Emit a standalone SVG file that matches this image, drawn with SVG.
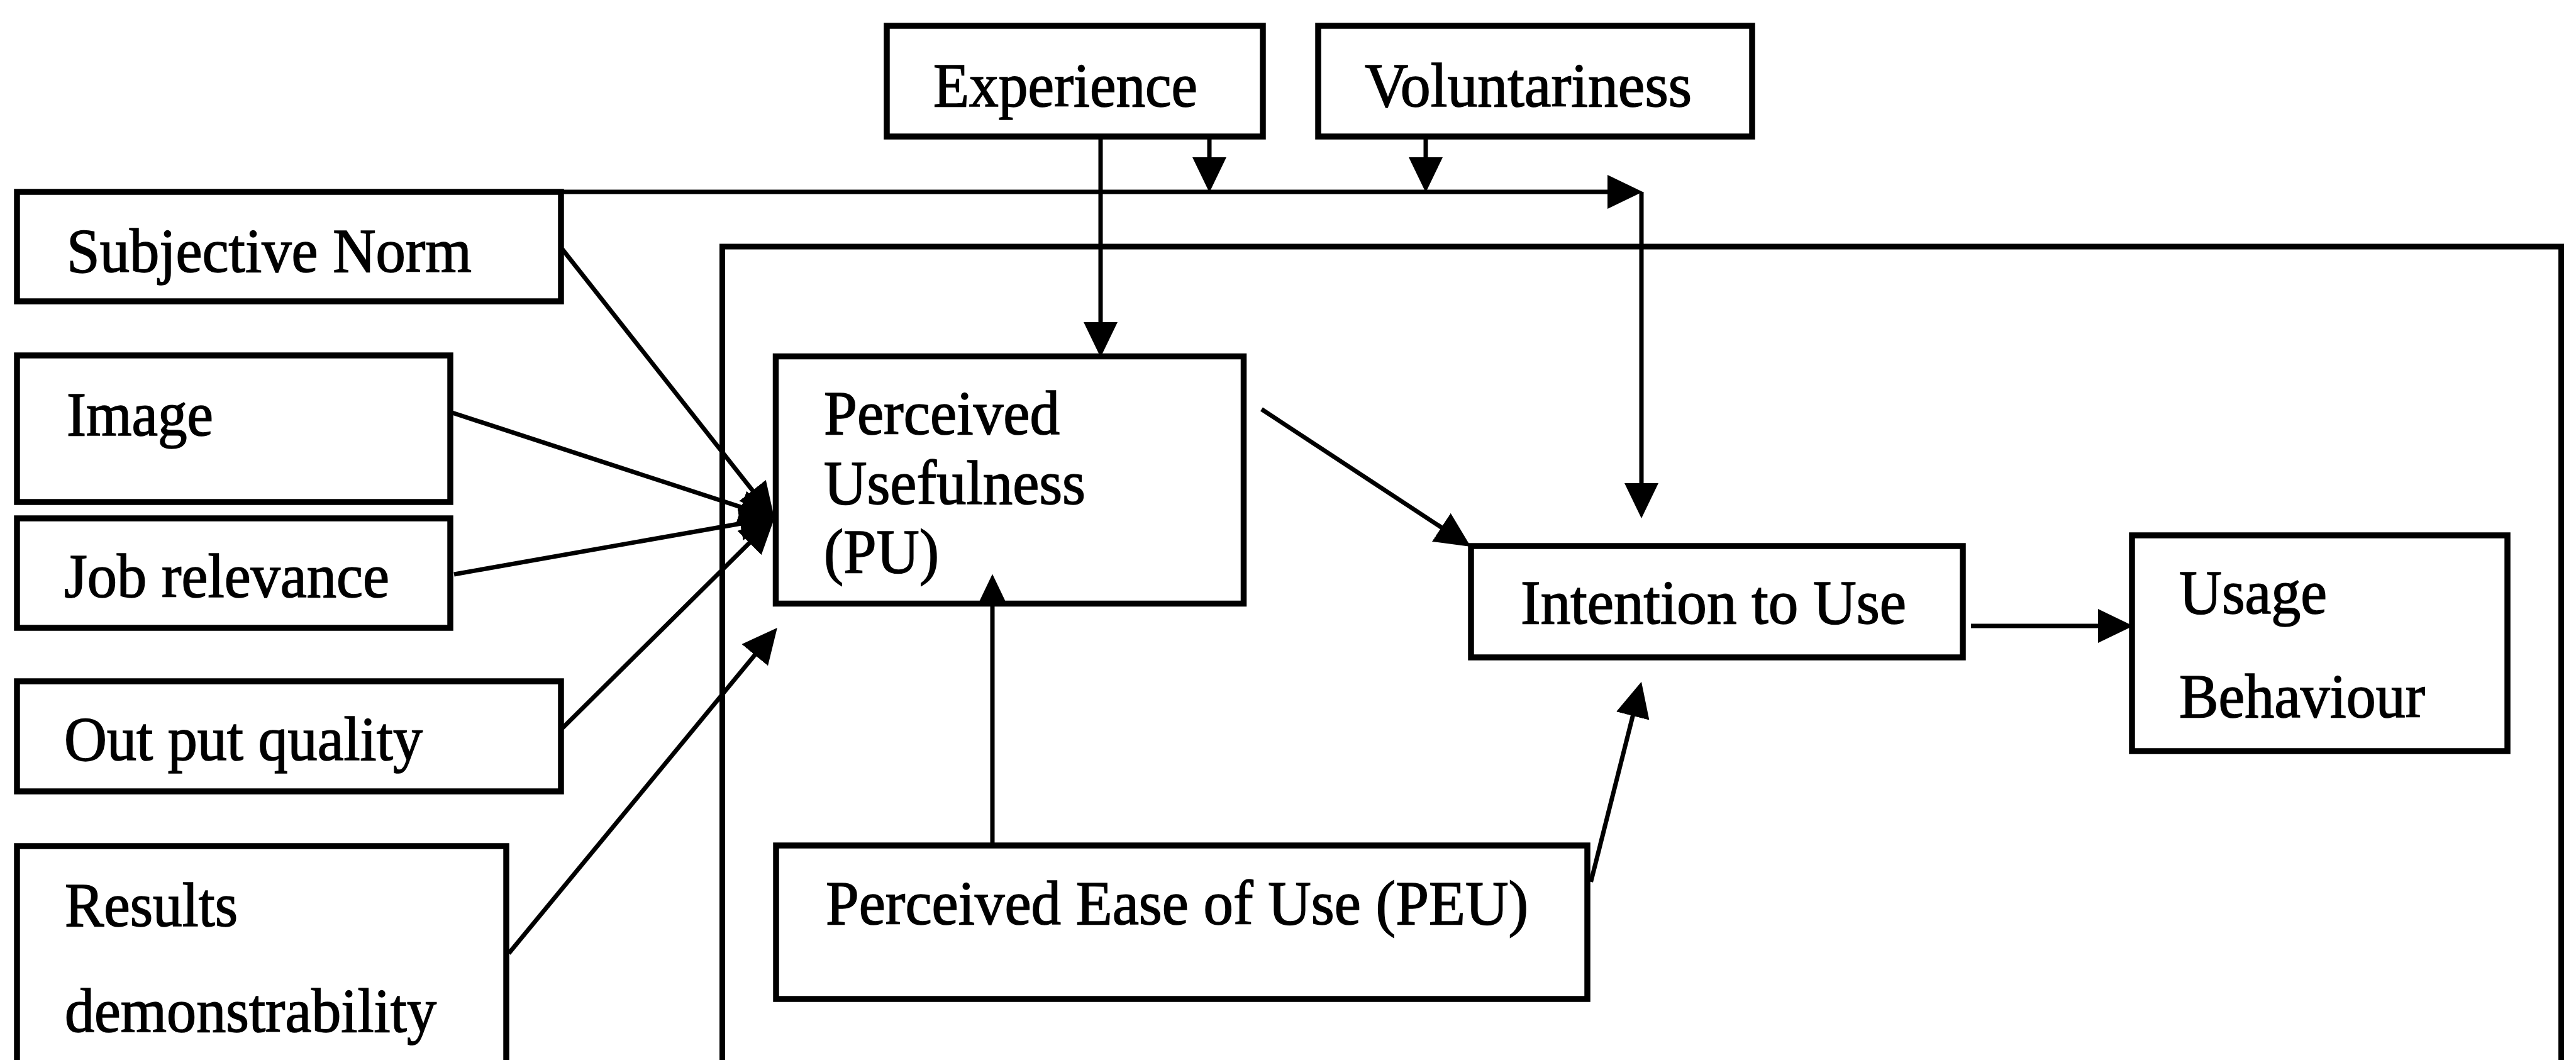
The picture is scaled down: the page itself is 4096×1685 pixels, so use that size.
<svg xmlns="http://www.w3.org/2000/svg" width="4096" height="1685" viewBox="0 0 4096 1685">
  <style>
    .box { fill: #ffffff; stroke: #000000; stroke-width: 9.5; }
    .frame { fill: none; stroke: #000000; stroke-width: 9; }
    .label { font-family: "Liberation Serif", "Times New Roman", serif; font-size: 99px; fill: #000000; stroke: #000000; stroke-width: 1.6; }
    .link { fill: none; stroke: #000000; stroke-width: 7; marker-end: url(#arrow); }
    .plain { fill: none; stroke: #000000; stroke-width: 7; }
  </style>
  <defs>
    <marker id="arrow" viewBox="0 0 56 54" refX="44" refY="27" markerWidth="56" markerHeight="54" markerUnits="userSpaceOnUse" orient="auto">
      <path d="M0,0 L56,27 L0,54 Z" fill="#000000"/>
    </marker>
    <marker id="arrow-small" viewBox="0 0 46 44" refX="36" refY="22" markerWidth="46" markerHeight="44" markerUnits="userSpaceOnUse" orient="auto">
      <path d="M0,0 L46,22 L0,44 Z" fill="#000000"/>
    </marker>
  </defs>

  <rect width="4096" height="1685" fill="#ffffff"/>

  <!-- outer frame around the core model -->
  <g id="core-frame">
    <rect class="frame" x="1148.5" y="392" width="2924" height="1400"/>
  </g>

  <g id="experience">
    <rect class="box" x="1410" y="41" width="598" height="176"/>
    <text class="label" x="1484" y="169" textLength="420" lengthAdjust="spacingAndGlyphs">Experience</text>
  </g>

  <g id="voluntariness">
    <rect class="box" x="2096" y="41" width="690" height="176"/>
    <text class="label" x="2170" y="169" textLength="520" lengthAdjust="spacingAndGlyphs">Voluntariness</text>
  </g>

  <g id="subjective-norm">
    <rect class="box" x="27" y="305" width="865" height="174"/>
    <text class="label" x="106" y="432" textLength="644" lengthAdjust="spacingAndGlyphs">Subjective Norm</text>
  </g>

  <g id="image">
    <rect class="box" x="27" y="565" width="689" height="233"/>
    <text class="label" x="106" y="692" textLength="233" lengthAdjust="spacingAndGlyphs">Image</text>
  </g>

  <g id="job-relevance">
    <rect class="box" x="27" y="824" width="689" height="174"/>
    <text class="label" x="102" y="949" textLength="517" lengthAdjust="spacingAndGlyphs">Job relevance</text>
  </g>

  <g id="output-quality">
    <rect class="box" x="27" y="1083" width="865" height="175"/>
    <text class="label" x="102" y="1208" textLength="570" lengthAdjust="spacingAndGlyphs">Out put quality</text>
  </g>

  <g id="results-demonstrability">
    <rect class="box" x="27" y="1345" width="778" height="400"/>
    <text class="label" x="103" y="1472" textLength="275" lengthAdjust="spacingAndGlyphs">Results</text>
    <text class="label" x="103" y="1640" textLength="591" lengthAdjust="spacingAndGlyphs">demonstrability</text>
  </g>

  <g id="perceived-usefulness">
    <rect class="box" x="1233.5" y="566.5" width="744" height="393"/>
    <text class="label" x="1310" y="690" textLength="375" lengthAdjust="spacingAndGlyphs">Perceived</text>
    <text class="label" x="1310" y="801" textLength="416" lengthAdjust="spacingAndGlyphs">Usefulness</text>
    <text class="label" x="1310" y="910" textLength="183" lengthAdjust="spacingAndGlyphs">(PU)</text>
  </g>

  <g id="perceived-ease-of-use">
    <rect class="box" x="1234" y="1344" width="1290" height="244"/>
    <text class="label" x="1313" y="1469" textLength="1117" lengthAdjust="spacingAndGlyphs">Perceived Ease of Use (PEU)</text>
  </g>

  <g id="intention-to-use">
    <rect class="box" x="2339" y="868" width="782" height="177"/>
    <text class="label" x="2418" y="991" textLength="613" lengthAdjust="spacingAndGlyphs">Intention to Use</text>
  </g>

  <g id="usage-behaviour">
    <rect class="box" x="3390" y="851" width="597" height="343"/>
    <text class="label" x="3465" y="975" textLength="235" lengthAdjust="spacingAndGlyphs">Usage</text>
    <text class="label" x="3465" y="1140" textLength="391" lengthAdjust="spacingAndGlyphs">Behaviour</text>
  </g>

  <!-- connectors (drawn last so arrowheads stay visible on box edges) -->
  <g id="connectors">
    <!-- moderator line from the subjective norm box across the top -->
    <path class="link" d="M892,305 H2600"/>
    <path class="link" d="M2610,305 V812"/>
    <path class="link" d="M1923,217 V294"/>
    <path class="link" d="M2267,217 V294"/>
    <path class="link" d="M1750,217 V556"/>
    <!-- external determinants into perceived usefulness -->
    <path class="link" d="M894,396 L1223.8,814.2"/>
    <path class="link" d="M719,656 L1220.5,819.9"/>
    <path class="link" d="M722,913 L1220.2,824.7"/>
    <path class="link" d="M894,1157.7 L1222.9,832"/>
    <path class="link" d="M809,1515.6 L1228.2,1007.2"/>
    <!-- core TAM paths -->
    <path class="plain" d="M1578,1344 V922.5" marker-end="url(#arrow-small)"/>
    <path class="link" d="M2006,650.5 L2328.6,862.5"/>
    <path class="link" d="M2529.6,1401.8 L2607,1095.3"/>
    <path class="link" d="M3134,995 H3380"/>
  </g>
</svg>
